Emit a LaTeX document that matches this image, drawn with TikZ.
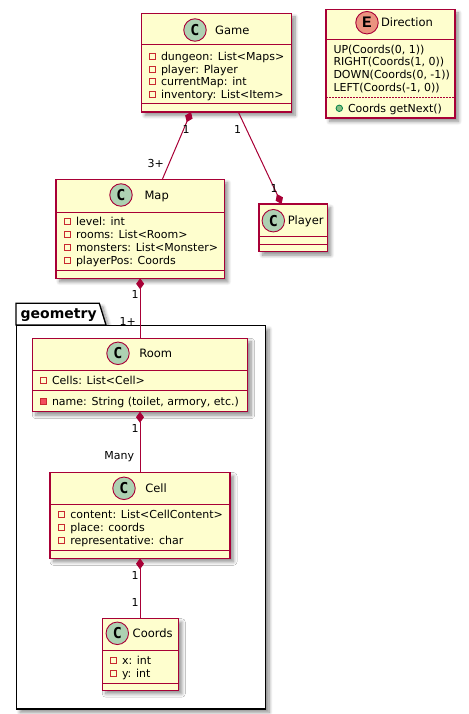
\documentclass[tikz,border=0pt]{standalone}
\usepackage{fontspec}
\setmainfont{DejaVu Sans}
\newfontfamily\badgefont{DejaVu Sans Mono}
\newfontfamily\enumbadgefont{Liberation Mono}
\usetikzlibrary{arrows.meta,shadows.blur}

\definecolor{umlred}{HTML}{A80036}
\definecolor{umlfill}{HTML}{FEFECE}
\definecolor{clsgreen}{HTML}{ADD1B2}
\definecolor{enumorange}{HTML}{EB937F}
\definecolor{privred}{HTML}{C82930}
\definecolor{privfill}{HTML}{F24D5C}
\definecolor{pubgreen}{HTML}{038048}
\definecolor{pubfill}{HTML}{84BE84}

% one attribute row: name, icon style, icon x, icon y, text
\newcommand\umlattr[5]{%
  \node[#2] (#1-icon) at (#3,#4) {};
  \node[attrtext, xshift=8.5pt, yshift=-4pt] (#1) at (#3,#4) {#5};}

\begin{document}
\begin{tikzpicture}[x=1pt, y=-1pt,
  softshadow/.style={blur shadow={shadow xshift=3.5pt, shadow yshift=-3.5pt,
      shadow blur radius=3.5pt, shadow blur steps=8, shadow opacity=45}},
  classbox/.style={draw=umlred, fill=umlfill, line width=1.3pt, inner sep=0pt,
      outer sep=0pt, anchor=north west, softshadow},
  sepline/.style={draw=umlred, line width=1pt},
  dotsep/.style={draw=umlred, line width=0.8pt, dash pattern=on 1.5pt off 1.5pt},
  badge/.style={circle, draw=umlred, line width=0.9pt, minimum size=22.5pt,
      inner sep=0pt, fill=clsgreen,
      font=\badgefont\bfseries\fontsize{15}{15}\selectfont},
  enumbadge/.style={badge, fill=enumorange,
      font=\enumbadgefont\bfseries\fontsize{16}{16}\selectfont},
  clsname/.style={anchor=base, inner sep=0pt, font=\fontsize{11.5}{13}\selectfont},
  attrtext/.style={anchor=base west, inner sep=0pt, font=\fontsize{11}{12.7}\selectfont},
  privfield/.style={rectangle, draw=privred, line width=0.8pt, minimum size=6pt,
      inner sep=0pt},
  privmethod/.style={privfield, fill=privfill},
  pubmethod/.style={circle, draw=pubgreen, fill=pubfill, line width=0.8pt,
      minimum size=6.5pt, inner sep=0pt},
  assoc/.style={draw=umlred, line width=1pt},
  comp/.style={assoc, {Diamond[length=11pt,width=8pt]}-},
  compend/.style={assoc, -{Diamond[length=11pt,width=8pt]}},
  mult/.style={inner sep=0pt, font=\fontsize{11}{12}\selectfont},
  pkgline/.style={draw=black, line width=1.3pt, fill=white, softshadow}]

\useasboundingbox (0,0) rectangle (468,714);

% ---------- package geometry ----------
\path[pkgline] (16,325) -- (16,303.3) -- (99.3,303.3) -- (106,325) -- cycle;
\node[draw=black, line width=1.3pt, fill=white, softshadow, inner sep=0pt,
      anchor=north west, minimum width=249pt, minimum height=383.3pt]
      (pkg) at (16,325) {};
\node[anchor=base west, inner sep=0pt,
      font=\bfseries\fontsize{14}{14}\selectfont] (pkg-label) at (20.5,318) {geometry};

% ---------- Game ----------
\node[classbox, minimum width=150pt, minimum height=98.5pt] (game) at (141.5,13.5) {};
\draw[sepline] (141.5,44.3) -- (291.5,44.3);
\draw[sepline] (141.5,104) -- (291.5,104);
\node[badge] (game-badge) at (195,30) {C};
\node[clsname] (game-name) at (232.3,34.2) {Game};
\umlattr{game-a1}{privfield}{152.3}{56.7}{dungeon: List<Maps>}
\umlattr{game-a2}{privfield}{152.3}{69.3}{player: Player}
\umlattr{game-a3}{privfield}{152.3}{81.8}{currentMap: int}
\umlattr{game-a4}{privfield}{152.3}{94.3}{inventory: List<Item>}

% ---------- Direction ----------
\node[classbox, minimum width=129pt, minimum height=108.5pt] (dir) at (326,9.5) {};
\draw[sepline] (326,40) -- (455,40);
\draw[dotsep] (326,97.7) -- (455,97.7);
\node[enumbadge] (dir-badge) at (367,22.7) {E};
\node[clsname] (dir-name) at (407,26.9) {Direction};
\node[attrtext] (dir-up) at (333.3,53.3) {UP(Coords(0, 1))};
\node[attrtext] (dir-right) at (333.3,66) {RIGHT(Coords(1, 0))};
\node[attrtext] (dir-down) at (333.3,78.7) {DOWN(Coords(0, -1))};
\node[attrtext] (dir-left) at (333.3,91.3) {LEFT(Coords(-1, 0))};
\umlattr{dir-next}{pubmethod}{339.3}{108.3}{Coords getNext()}

% ---------- Map ----------
\node[classbox, minimum width=168.3pt, minimum height=99pt] (map) at (56,179.3) {};
\draw[sepline] (56,212) -- (224.3,212);
\draw[sepline] (56,270) -- (224.3,270);
\node[badge] (map-badge) at (121,195) {C};
\node[clsname] (map-name) at (156.7,199.2) {Map};
\umlattr{map-a1}{privfield}{67.3}{221.7}{level: int}
\umlattr{map-a2}{privfield}{67.3}{234.5}{rooms: List<Room>}
\umlattr{map-a3}{privfield}{67.3}{247.3}{monsters: List<Monster>}
\umlattr{map-a4}{privfield}{67.3}{260}{playerPos: Coords}

% ---------- Player ----------
\node[classbox, minimum width=68.3pt, minimum height=47.7pt] (player) at (259,204) {};
\draw[sepline] (259,236.7) -- (327.3,236.7);
\draw[sepline] (259,244.3) -- (327.3,244.3);
\node[badge] (player-badge) at (273.3,220.7) {C};
\node[clsname] (player-name) at (305.7,224.9) {Player};

% ---------- Room ----------
\node[classbox, minimum width=215.4pt, minimum height=73.4pt] (room) at (32.3,338.3) {};
\draw[sepline] (32.3,370.3) -- (247.7,370.3);
\draw[sepline] (32.3,390) -- (247.7,390);
\node[badge] (room-badge) at (118,353.3) {C};
\node[clsname] (room-name) at (155.7,357.5) {Room};
\umlattr{room-a1}{privfield}{43.3}{380}{Cells: List<Cell>}
\umlattr{room-m1}{privmethod}{43.3}{401}{name: String (toilet, armory, etc.)}

% ---------- Cell ----------
\node[classbox, minimum width=180pt, minimum height=85.8pt] (cell) at (50,472.5) {};
\draw[sepline] (50,504) -- (230,504);
\draw[sepline] (50,550) -- (230,550);
\node[badge] (cell-badge) at (124,488.3) {C};
\node[clsname] (cell-name) at (156,492.5) {Cell};
\umlattr{cell-a1}{privfield}{61.7}{514}{content: List<CellContent>}
\umlattr{cell-a2}{privfield}{61.7}{527}{place: coords}
\umlattr{cell-a3}{privfield}{61.7}{540}{representative: char}

% ---------- Coords ----------
\node[classbox, minimum width=76pt, minimum height=71.5pt] (coords) at (102.3,618.7) {};
\draw[sepline] (102.3,650) -- (178.3,650);
\draw[sepline] (102.3,683.3) -- (178.3,683.3);
\node[badge] (coords-badge) at (117.3,633.3) {C};
\node[clsname] (coords-name) at (152.7,637.5) {Coords};
\umlattr{coords-a1}{privfield}{113.3}{660}{x: int}
\umlattr{coords-a2}{privfield}{113.3}{673.3}{y: int}

% ---------- relations ----------
\draw[comp] ([xshift=-25.5pt]game.south) -- ([xshift=22.2pt]map.north);
\draw[compend] ([xshift=21.8pt]game.south) -- ([xshift=-11.5pt]player.north);
\draw[comp] (map.south) -- (map.south |- room.north);
\draw[comp] (room.south) -- (room.south |- cell.north);
\draw[comp] (cell.south) -- (cell.south |- coords.north);

% multiplicities
\node[mult] (m-gm-1) at (186,129) {1};
\node[mult] (m-gm-2) at (155.7,163) {3+};
\node[mult] (m-gp-1) at (237.7,129) {1};
\node[mult] (m-gp-2) at (274,188) {1};
\node[mult] (m-mr-1) at (135,294) {1};
\node[mult] (m-mr-2) at (127.7,321.7) {1+};
\node[mult] (m-rc-1) at (135,428) {1};
\node[mult] (m-rc-2) at (119.3,456.7) {Many};
\node[mult] (m-cc-1) at (135,575) {1};
\node[mult] (m-cc-2) at (135,602.3) {1};
\end{tikzpicture}
\end{document}
